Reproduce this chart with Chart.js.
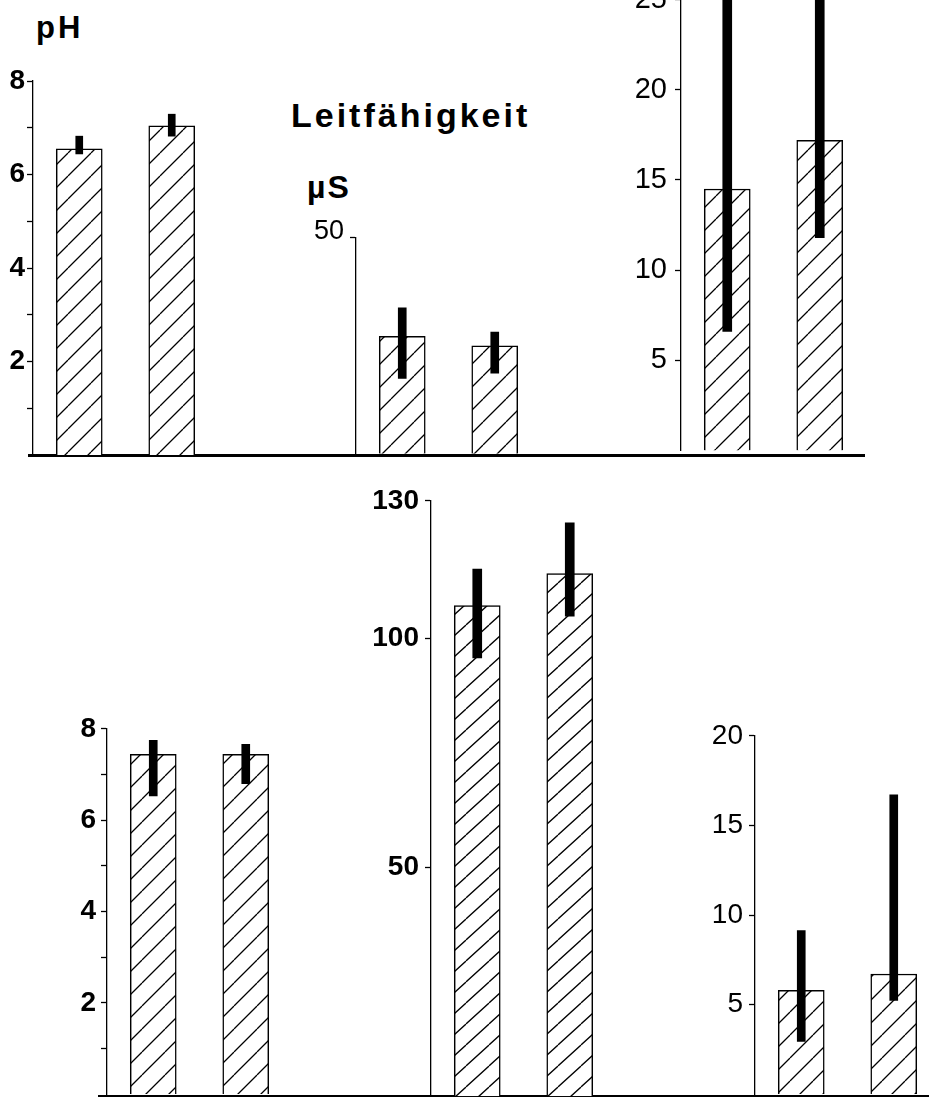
<!DOCTYPE html>
<html>
<head>
<meta charset="utf-8">
<script src="https://cdn.jsdelivr.net/npm/chart.js@4/dist/chart.umd.min.js"></script>
<style>
  html, body { margin: 0; padding: 0; background: #fff; }
  #page { position: relative; width: 929px; height: 1097px; overflow: hidden; background: #fff; }
  #page canvas { position: absolute; }
  .lbl { position: absolute; font-family: 'Liberation Sans', Arial, sans-serif; font-weight: bold; color: #000; line-height: 1; white-space: nowrap; }
  .rule { position: absolute; background: #000; }
</style>
</head>
<body>
<div id="page">
  <div class="lbl" style="left:36px; top:12px; font-size:31px; letter-spacing:3px;">pH</div>
  <div class="lbl" style="left:291px; top:98px; font-size:34px; letter-spacing:3px;">Leitfähigkeit</div>
  <div class="lbl" style="left:307px; top:171px; font-size:32px; letter-spacing:2px;">µS</div>
  <div class="rule" style="left:28px; top:454px; width:837px; height:3px;"></div>
  <div class="rule" style="left:98px; top:1095px; width:831px; height:2px;"></div>
</div>
<script>
// two bars in every panel
var groups = ['1', '2'];

// upper row
var phTopMeans = [6.55, 7.04];
var phTopRanges = [[6.44, 6.82], [6.82, 7.29]];
var condTopMeans = [27.1, 24.9];
var condTopRanges = [[17.4, 33.7], [18.6, 28.1]];
var rightTopMeans = [14.5, 17.2];
var rightTopRanges = [[6.6, 27.0], [11.8, 27.0]];

// lower row
var phBottomMeans = [7.44, 7.44];
var phBottomRanges = [[6.53, 7.75], [6.8, 7.66]];
var condBottomMeans = [107.1, 114.1];
var condBottomRanges = [[95.7, 115.1], [104.8, 125.2]];
var rightBottomMeans = [5.79, 6.71];
var rightBottomRanges = [[2.95, 9.13], [5.24, 16.7]];

// tick labels
var phTickLabels = [2, 4, 6, 8];
var phMinorTicks = [1, 3, 5, 7];
var condTopTicks = [50];
var rightTopTicks = [5, 10, 15, 20, 25];
var condBottomTicks = [50, 100, 130];
var rightBottomTicks = [5, 10, 15, 20];

var AXIS_W = 80, AREA_W = 185, RIGHT_PAD = 10, VPAD = 20;

function hatch(w, h) {
  var c = document.createElement('canvas');
  c.width = w; c.height = h;
  var g = c.getContext('2d');
  g.fillStyle = '#fff';
  g.fillRect(0, 0, w, h);
  g.strokeStyle = '#000';
  g.lineWidth = 1.3;
  g.beginPath();
  g.moveTo(0, h); g.lineTo(w, 0);
  g.moveTo(-w, h); g.lineTo(0, 0);
  g.moveTo(w, h); g.lineTo(2 * w, 0);
  g.stroke();
  return g.createPattern(c, 'repeat');
}

var panels = [
  { means: phTopMeans, ranges: phTopRanges, labels: phTickLabels, minor: phMinorTicks,
    min: 0, max: 8, axisX: 33, yMax: 81, yMin: 455, bold: true, size: 28, pad: 2, hatch: [23, 23], err: 7 },
  { means: condTopMeans, ranges: condTopRanges, labels: condTopTicks, minor: [],
    min: 0, max: 50, axisX: 356, yMax: 235, yMin: 456, bold: false, size: 27, pad: 6, offset: -6, hatch: [23, 23], err: 8 },
  { means: rightTopMeans, ranges: rightTopRanges, labels: rightTopTicks, minor: [],
    min: 0, max: 28, axisX: 681, yMax: -60, yMin: 456, bold: false, size: 29, pad: 8, hatch: [23, 23], err: 9 },
  { means: phBottomMeans, ranges: phBottomRanges, labels: phTickLabels, minor: phMinorTicks,
    min: 0, max: 8, axisX: 107, yMax: 727, yMin: 1096, bold: true, size: 28, pad: 5, hatch: [23, 23], err: 8 },
  { means: condBottomMeans, ranges: condBottomRanges, labels: condBottomTicks, minor: [],
    min: 0, max: 130, axisX: 431, yMax: 498, yMin: 1099, bold: true, size: 28, pad: 6, hatch: [23, 21], err: 9 },
  { means: rightBottomMeans, ranges: rightBottomRanges, labels: rightBottomTicks, minor: [],
    min: 0, max: 20, axisX: 755, yMax: 733, yMin: 1097, bold: false, size: 28, pad: 6, hatch: [23, 23], err: 8 }
];

var page = document.getElementById('page');

panels.forEach(function (p) {
  var cv = document.createElement('canvas');
  var w = AXIS_W + AREA_W + RIGHT_PAD;
  var h = p.yMin - p.yMax + 2 * VPAD;
  cv.width = w; cv.height = h;
  cv.style.left = (p.axisX - AXIS_W) + 'px';
  cv.style.top = (p.yMax - VPAD) + 'px';
  page.appendChild(cv);

  var tickVals = p.labels.concat(p.minor).sort(function (a, b) { return a - b; });

  new Chart(cv, {
    type: 'bar',
    data: {
      labels: groups,
      datasets: [
        {
          data: p.means,
          backgroundColor: hatch(p.hatch[0], p.hatch[1]),
          borderColor: '#000',
          borderWidth: 1.5,
          barThickness: 46,
          grouped: false,
          order: 1
        },
        {
          data: p.ranges,
          backgroundColor: '#000',
          borderWidth: 0,
          barThickness: p.err,
          grouped: false,
          order: 0
        }
      ]
    },
    options: {
      responsive: false,
      animation: false,
      devicePixelRatio: 1,
      layout: { padding: { top: VPAD, bottom: VPAD, left: 0, right: RIGHT_PAD } },
      plugins: { legend: { display: false }, tooltip: { enabled: false } },
      scales: {
        x: { display: false },
        y: {
          min: p.min,
          max: p.max,
          afterBuildTicks: function (scale) {
            scale.ticks = tickVals.map(function (v) { return { value: v }; });
          },
          afterFit: function (scale) { scale.width = AXIS_W; },
          ticks: {
            color: '#000',
            padding: p.pad,
            labelOffset: p.offset || 0,
            font: { family: "'Liberation Sans', Arial, sans-serif", size: p.size, weight: p.bold ? 'bold' : 'normal' },
            callback: function (v) { return p.labels.indexOf(v) >= 0 ? String(v) : ''; }
          },
          grid: { drawOnChartArea: false, tickLength: 6, color: '#000', tickWidth: 1.3 },
          border: { color: '#000', width: 1.3 }
        }
      }
    }
  });
});
</script>
</body>
</html>
